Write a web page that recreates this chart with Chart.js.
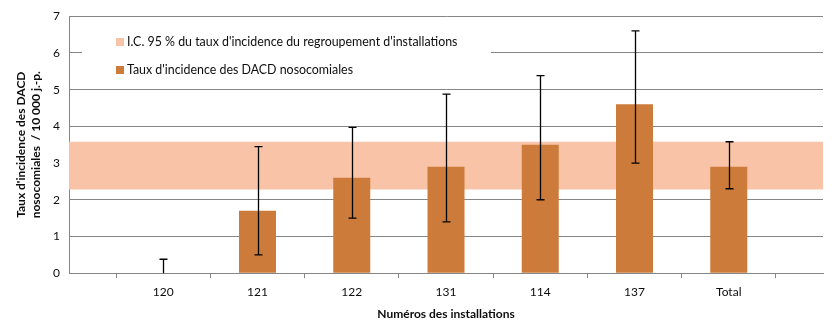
<!DOCTYPE html>
<html>
<head>
<meta charset="utf-8">
<script src="https://cdn.jsdelivr.net/npm/chart.js@4"></script>
<style>
  html, body { margin: 0; padding: 0; background: #ffffff; }
  #wrap { width: 838px; height: 328px; }
</style>
</head>
<body>
<div id="wrap"><canvas id="incidenceChart"></canvas></div>
<script>
const installations = ['', '120', '121', '122', '131', '114', '137', 'Total', ''];
const tauxIncidence = [null, 0, 1.7, 2.6, 2.9, 3.5, 4.6, 2.9, null];
const icBas = [null, 0, 0.5, 1.5, 1.4, 2.0, 3.0, 2.3, null];
const icHaut = [null, 0.38, 3.45, 3.97, 4.88, 5.38, 6.6, 3.58, null];
const regroupementBas = [2.28, 2.28, 2.28, 2.28, 2.28, 2.28, 2.28, 2.28, 2.28];
const regroupementHaut = [3.58, 3.58, 3.58, 3.58, 3.58, 3.58, 3.58, 3.58, 3.58];
const yTicks = [0, 1, 2, 3, 4, 5, 6, 7];

const fontFamily = 'Lato, "Open Sans", sans-serif';
const textColor = '#0d0d0d';
const barColor = '#cd7b3a';
const bandColor = '#f8c3a7';

const errorBars = {
    id: 'errorBars',
    afterDatasetsDraw(chart) {
        const { ctx, scales } = chart;
        const meta = chart.getDatasetMeta(2);
        ctx.save();
        ctx.strokeStyle = '#000000';
        ctx.lineWidth = 1.3;
        meta.data.forEach((bar, i) => {
            if (icHaut[i] == null) return;
            const x = Math.round(bar.x) + 0.5;
            const yTop = scales.y.getPixelForValue(icHaut[i]);
            const yBot = scales.y.getPixelForValue(icBas[i]);
            ctx.beginPath();
            ctx.moveTo(x, yTop);
            ctx.lineTo(x, yBot);
            ctx.moveTo(x - 4, yTop);
            ctx.lineTo(x + 4, yTop);
            if (icBas[i] > 0) {
                ctx.moveTo(x - 4, yBot);
                ctx.lineTo(x + 4, yBot);
            }
            ctx.stroke();
        });
        ctx.restore();
    }
};

const boxLegend = {
    id: 'boxLegend',
    beforeDatasetsDraw(chart) {
        const { ctx } = chart;
        ctx.save();
        ctx.fillStyle = '#ffffff';
        ctx.fillRect(82, 28, 409, 54);
        ctx.font = '12.4px ' + fontFamily;
        ctx.textBaseline = 'middle';
        const items = [
            { color: bandColor, text: "I.C. 95 % du taux d'incidence du regroupement d'installations", y: 42 },
            { color: barColor, text: "Taux d'incidence des DACD nosocomiales", y: 70 }
        ];
        items.forEach(item => {
            ctx.fillStyle = item.color;
            ctx.fillRect(116, item.y - 4, 8, 8);
            ctx.fillStyle = textColor;
            ctx.fillText(item.text, 127, item.y);
        });
        ctx.restore();
    }
};

new Chart(document.getElementById('incidenceChart'), {
    type: 'bar',
    data: {
        labels: installations,
        datasets: [{
            type: 'line',
            label: 'IC bas',
            data: regroupementBas,
            borderWidth: 0,
            pointRadius: 0,
            fill: false,
            order: 3
        }, {
            type: 'line',
            label: "I.C. 95 % du taux d'incidence du regroupement d'installations",
            data: regroupementHaut,
            borderWidth: 0,
            pointRadius: 0,
            backgroundColor: bandColor,
            fill: '-1',
            order: 2
        }, {
            label: "Taux d'incidence des DACD nosocomiales",
            data: tauxIncidence,
            backgroundColor: barColor,
            barThickness: 37,
            inflateAmount: 0,
            order: 1
        }]
    },
    plugins: [boxLegend, errorBars],
    options: {
        responsive: true,
        maintainAspectRatio: false,
        animation: false,
        layout: {
            padding: { top: 11, right: 15, left: 13, bottom: 6 }
        },
        plugins: {
            legend: { display: false },
            tooltip: { enabled: false }
        },
        scales: {
            x: {
                offset: false,
                grid: {
                    drawOnChartArea: false,
                    drawTicks: true,
                    tickLength: 5,
                    color: '#868686'
                },
                border: { color: '#868686' },
                ticks: {
                    color: textColor,
                    maxRotation: 0,
                    autoSkip: false,
                    padding: 7,
                    font: { family: fontFamily, size: 12 }
                },
                title: {
                    display: true,
                    text: 'Numéros des installations',
                    color: textColor,
                    padding: { top: 0, bottom: 1 },
                    font: { family: fontFamily, size: 12, weight: 'bold' }
                }
            },
            y: {
                min: 0,
                max: 7,
                afterBuildTicks: (scale) => {
                    scale.ticks = yTicks.map(v => ({ value: v }));
                },
                afterFit: (scale) => {
                    scale.width = 56;
                },
                grid: {
                    color: '#868686',
                    drawTicks: false
                },
                border: { color: '#868686' },
                ticks: {
                    color: textColor,
                    padding: 9,
                    font: { family: fontFamily, size: 12 }
                },
                title: {
                    display: true,
                    text: ["Taux d'incidence des DACD", 'nosocomiales  / 10 000 j.-p.'],
                    color: textColor,
                    padding: { top: 0, bottom: 2 },
                    font: { family: fontFamily, size: 12, weight: 'bold', lineHeight: 1.3 }
                }
            }
        }
    }
});
</script>
</body>
</html>
